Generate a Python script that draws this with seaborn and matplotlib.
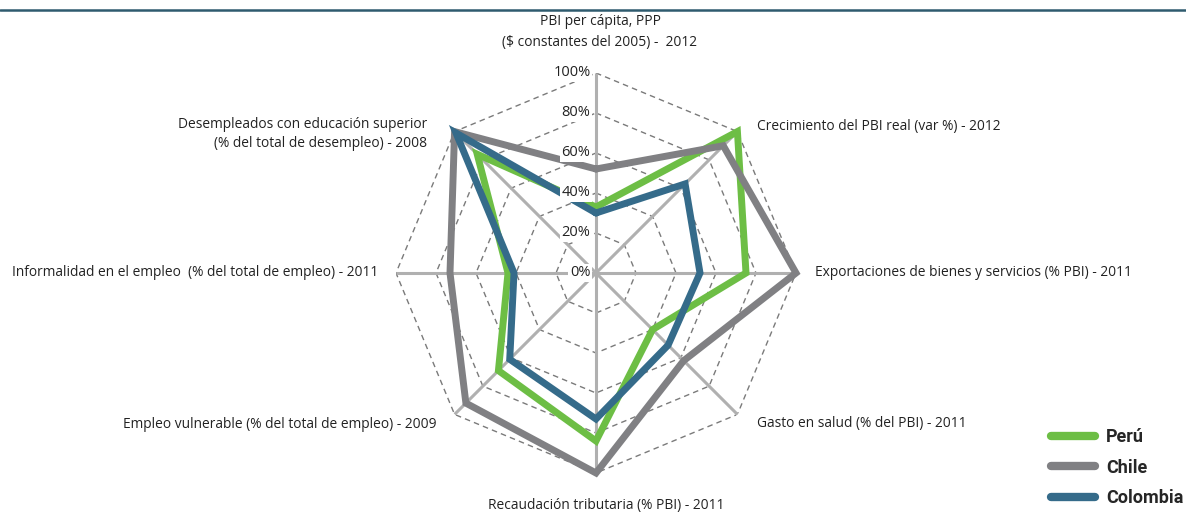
import numpy as np
import pandas as pd
import seaborn as sns
import matplotlib
matplotlib.use("Agg")
from matplotlib import pyplot as plt
from matplotlib.lines import Line2D

# categories, clockwise from the top
categories = [
    "PBI per cápita, PPP\n($ constantes del 2005) -  2012",
    "Crecimiento del PBI real (var %) - 2012",
    "Exportaciones de bienes y servicios (% PBI) - 2011",
    "Gasto en salud (% del PBI) - 2011",
    "Recaudación tributaria (% PBI) - 2011",
    "Empleo vulnerable (% del total de empleo) - 2009",
    "Informalidad en el empleo  (% del total de empleo) - 2011",
    "Desempleados con educación superior\n(% del total de desempleo) - 2008",
]
peru = [33, 100, 75, 40, 84, 69, 44, 84]
chile = [52, 90, 100, 62, 100, 92, 73, 100]
colombia = [30, 63, 52, 51, 73, 61, 41, 99]
countries = ["Perú", "Chile", "Colombia"]
tick_values = [0, 20, 40, 60, 80, 100]
tick_labels = ["0%", "20%", "40%", "60%", "80%", "100%"]

colors = {"Perú": "#6dbe45", "Chile": "#808083", "Colombia": "#356b8a"}

W, H = 1186, 513
fig = plt.figure(figsize=(W / 100, H / 100), dpi=100)
sns.set_style("white")
plt.rcParams["font.family"] = ["Open Sans", "DejaVu Sans"]

def px(x, y):
    return x / W, 1 - y / H

# polar axes: centre (596, 273), radius 200 px
cx, cy, rad = 596, 273, 200
ax = fig.add_axes([(cx - rad) / W, (H - cy - rad) / H, 2 * rad / W, 2 * rad / H],
                  projection="polar")
ax.set_theta_offset(np.pi / 2)
ax.set_theta_direction(-1)
ax.set_ylim(0, 100)
ax.grid(False)
ax.spines["polar"].set_visible(False)
ax.set_xticks([])
ax.set_yticks([])
ax.patch.set_alpha(0)

n = len(categories)
angles = np.arange(n) * 2 * np.pi / n
closed = np.append(angles, 2 * np.pi)

# dashed octagon grid
for r in tick_values[1:]:
    ax.plot(closed, [r] * (n + 1), color="#7a7a7a", lw=1.0, ls=(0, (4, 3)), zorder=1)
# solid spokes
for a in angles:
    ax.plot([a, a], [0, 100], color="#b0b0b0", lw=2.2, zorder=1, solid_capstyle="butt")

rows = []
for name, vals in zip(countries, [peru, chile, colombia]):
    for a, v in zip(closed, vals + vals[:1]):
        rows.append({"pais": name, "ang": a, "val": v})
df = pd.DataFrame(rows)

sns.lineplot(data=df, x="ang", y="val", hue="pais", palette=colors, sort=False,
             estimator=None, lw=5, ax=ax, legend=False)
for ln in ax.get_lines()[-3:]:
    ln.set_clip_on(False)
    ln.set_zorder(3)
    ln.set_solid_joinstyle("miter")
ax.set_xlabel("")
ax.set_ylabel("")

# radial tick labels
for v, lab in zip(tick_values, tick_labels):
    t = ax.annotate(lab, xy=(0, v), xytext=(-4, 0), textcoords="offset points",
                    ha="right", va="center", fontsize=10.5, color="#222222",
                    bbox=dict(boxstyle="square,pad=0.1", fc="white", ec="none"))
    t.set_zorder(10)

# category labels
lab_style = dict(fontsize=9.9, color="#222222")
fig.text(*px(600, 32), categories[0], ha="center", va="center", linespacing=1.55, **lab_style)
fig.text(*px(757, 127), categories[1], ha="left", va="center", **lab_style)
fig.text(*px(815, 272), categories[2], ha="left", va="center", **lab_style)
fig.text(*px(757, 424), categories[3], ha="left", va="center", **lab_style)
fig.text(*px(606, 505), categories[4], ha="center", va="center", **lab_style)
fig.text(*px(437, 424), categories[5], ha="right", va="center", **lab_style)
fig.text(*px(378, 272), categories[6], ha="right", va="center", **lab_style)
fig.text(*px(427, 134), categories[7], ha="right", va="center", multialignment="right",
         linespacing=1.4, **lab_style)

# top rule
fig.add_artist(Line2D([0, 1], [1 - 10 / H] * 2, color="#2f5b6e", lw=1.8))

# legend
handles = [Line2D([], [], color=colors[c], lw=6, solid_capstyle="round") for c in countries]
leg = fig.legend(handles, countries, loc="lower right", bbox_to_anchor=px(1194, 518),
                 frameon=False, handlelength=2.45, labelspacing=0.7, handletextpad=0.6,
                 borderaxespad=0.2,
                 prop={"family": ["Roboto", "DejaVu Sans"], "weight": "bold", "size": 13})

fig.savefig("out.png", dpi=100)
